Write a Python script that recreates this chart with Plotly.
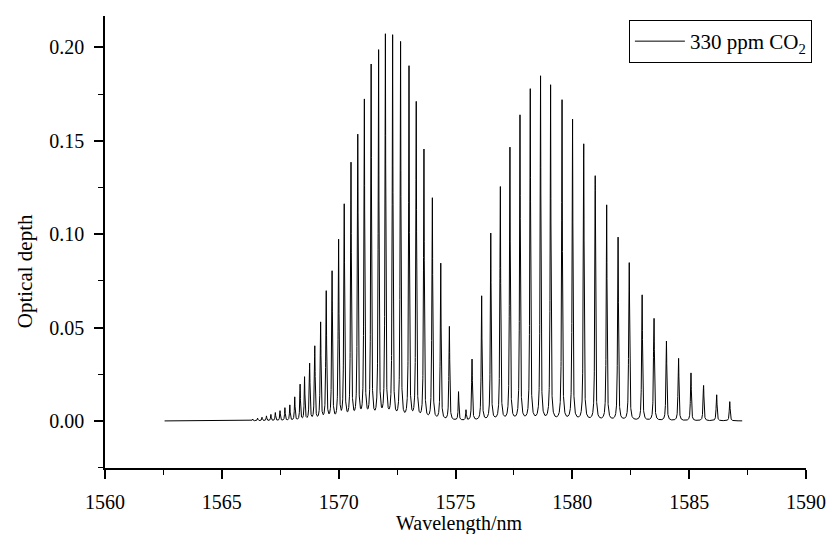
import numpy as np
import plotly.graph_objects as go

# ---- data (line centres in nm, peak optical depth) ----
main_wl = [1566.32, 1566.53, 1566.72, 1566.91, 1567.10, 1567.29, 1567.49, 1567.70,
           1567.91, 1568.12, 1568.35, 1568.54, 1568.76, 1568.98, 1569.23, 1569.47,
           1569.72, 1570.00, 1570.24, 1570.53, 1570.82, 1571.10, 1571.39, 1571.71,
           1572.00, 1572.31, 1572.65, 1573.01, 1573.32, 1573.65, 1574.01, 1574.37,
           1574.74,
           1575.13, 1575.45, 1575.71, 1576.12, 1576.51, 1576.92, 1577.33, 1577.76,
           1578.20, 1578.64, 1579.07, 1579.56, 1580.01, 1580.49, 1580.98, 1581.47,
           1581.96, 1582.44, 1582.99, 1583.50, 1584.03, 1584.55, 1585.08, 1585.62,
           1586.18, 1586.74]
main_od = [0.0010, 0.0015, 0.0020, 0.0027, 0.0035, 0.0045, 0.0055, 0.0071,
           0.0086, 0.0129, 0.0197, 0.0237, 0.0309, 0.0402, 0.0530, 0.0697,
           0.0804, 0.0973, 0.1161, 0.1381, 0.1532, 0.1724, 0.1911, 0.1988,
           0.2073, 0.2068, 0.2032, 0.1902, 0.1711, 0.1456, 0.1195, 0.0845,
           0.0505,
           0.0157, 0.0060, 0.0331, 0.0670, 0.1006, 0.1255, 0.1466, 0.1639,
           0.1779, 0.1848, 0.1800, 0.1720, 0.1616, 0.1482, 0.1313, 0.1157,
           0.0979, 0.0827, 0.0671, 0.0541, 0.0425, 0.0331, 0.0256, 0.0188,
           0.0139, 0.0103]

weak_wl = [1568.74, 1568.96, 1569.21, 1569.45, 1569.70, 1569.98, 1570.22, 1570.51,
           1570.80, 1571.08, 1571.37, 1571.69, 1571.98, 1572.29, 1572.63, 1572.99,
           1573.30, 1573.63, 1573.99, 1574.35, 1574.72,
           1575.69, 1576.10, 1576.49, 1576.90, 1577.31, 1577.74, 1578.18, 1578.62,
           1579.05, 1579.54, 1579.99, 1580.47, 1580.96, 1581.45, 1581.94, 1582.42,
           1582.97, 1583.48, 1584.01, 1584.53, 1585.06, 1585.60, 1586.16, 1586.72]
weak_od = [0.008, 0.010, 0.013, 0.017, 0.019, 0.023, 0.030, 0.040,
           0.042, 0.038, 0.022, 0.030, 0.025, 0.034, 0.033, 0.021,
           0.027, 0.023, 0.028, 0.017, 0.014,
           0.008, 0.010, 0.013, 0.028, 0.031, 0.020, 0.029, 0.027,
           0.022, 0.022, 0.028, 0.038, 0.016, 0.018, 0.032, 0.048,
           0.023, 0.027, 0.015, 0.015, 0.008, 0.008, 0.005, 0.003]

wl_start, wl_end = 1562.55, 1587.27
line_hwhm = 0.017  # Lorentzian half width of each line, nm

series_name = "330 ppm CO<sub>2</sub>"
x_title = "Wavelength/nm"
y_title = "Optical depth"
x_ticks = [1560, 1565, 1570, 1575, 1580, 1585, 1590]
y_ticks = [0.00, 0.05, 0.10, 0.15, 0.20]


# ---- build the spectrum from the line list ----
def lorentz(d):
    g2 = line_hwhm ** 2
    return g2 / (d ** 2 + g2)


mc = np.array(main_wl)
wc = np.array(weak_wl)
wa = np.array(weak_od)
# amplitudes of main lines so that the total spectrum at each main centre equals the read value
M = lorentz(mc[:, None] - mc[None, :])
rhs = np.array(main_od) - (lorentz(mc[:, None] - wc[None, :]) * wa[None, :]).sum(axis=1)
ma = np.clip(np.linalg.solve(M, rhs), 0, None)

centres = np.concatenate([mc, wc])
amps = np.concatenate([ma, wa])
wl = np.union1d(np.arange(wl_start, wl_end, 0.002), centres)
wl = wl[(wl >= wl_start) & (wl <= wl_end)]
od = (amps[None, :] * lorentz(wl[:, None] - centres[None, :])).sum(axis=1)

FAMILY = "Liberation Serif, Times New Roman, serif"
font = dict(family=FAMILY, size=20, color="black")

fig = go.Figure()
fig.add_trace(go.Scatter(x=wl, y=od, mode="lines", name=series_name,
                         line=dict(color="black", width=1), showlegend=True))

axis_common = dict(showline=True, linecolor="black", linewidth=1.6, mirror=False,
                   ticks="outside", ticklen=9, tickwidth=1.6, tickcolor="black",
                   showgrid=False, zeroline=False, tickfont=font,
                   ticklabelstandoff=6)

fig.update_xaxes(range=[1560, 1590], tickvals=x_ticks,
                 minor=dict(ticks="outside", ticklen=5, tickwidth=1.2,
                            tickcolor="black", dtick=2.5, tick0=1560, showgrid=False),
                 **axis_common)
fig.update_yaxes(range=[-0.0252, 0.2168], tickvals=y_ticks, tickformat=".2f",
                 minor=dict(ticks="outside", ticklen=5, tickwidth=1.2,
                            tickcolor="black", dtick=0.025, tick0=0, showgrid=False),
                 **axis_common)

W, H = 838, 534
ml, mr, mt, mb = 105, 21, 16, 66
pw, ph = W - ml - mr, H - mt - mb

fig.add_annotation(text=x_title, xref="paper", yref="paper",
                   x=(465 - ml) / pw, y=1 - (523 - mt) / ph,
                   xanchor="center", yanchor="middle", showarrow=False,
                   font=dict(family=FAMILY, size=20, color="black"))
fig.add_annotation(text=y_title, xref="paper", yref="paper",
                   x=(24 - ml) / pw, y=1 - (271 - mt) / ph, textangle=-90,
                   xanchor="center", yanchor="middle", showarrow=False,
                   font=dict(family=FAMILY, size=21, color="black"))

fig.update_layout(
    width=W, height=H,
    margin=dict(l=ml, r=mr, t=mt, b=mb),
    paper_bgcolor="white", plot_bgcolor="white",
    font=font,
    showlegend=True,
    legend=dict(x=(823 - ml) / pw, y=1 - (20 - mt) / ph, xanchor="right", yanchor="top",
                bordercolor="black", borderwidth=1, bgcolor="white",
                font=dict(family=FAMILY, size=21, color="black"),
                itemwidth=50, tracegroupgap=0),
)

fig.write_html("out.html")
